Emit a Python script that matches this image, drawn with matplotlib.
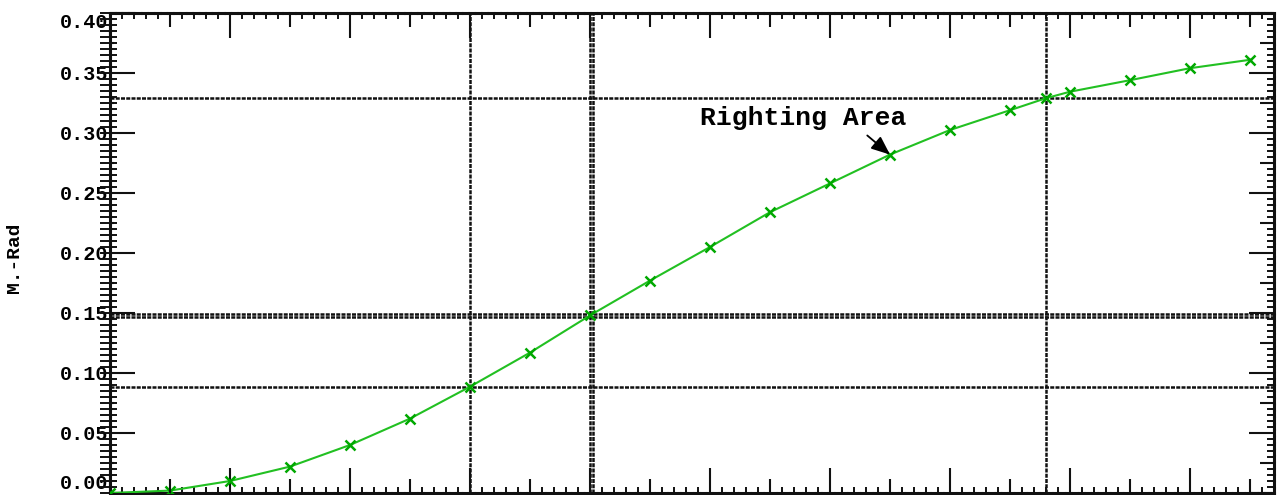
import numpy as np
import matplotlib
matplotlib.use("Agg")
import matplotlib.pyplot as plt
from matplotlib.ticker import MultipleLocator, FixedLocator

# ---- data ----
heel = [0, 5, 10, 15, 20, 25, 30, 35, 40, 45, 50, 55, 60, 65, 70, 75, 78, 80, 85, 90, 95]
area = [0.000, 0.002, 0.010, 0.022, 0.040, 0.062, 0.0886, 0.117, 0.148, 0.177, 0.205,
        0.234, 0.258, 0.282, 0.3025, 0.319, 0.329, 0.3344, 0.344, 0.354, 0.361]
vlines_x = [30, 40, 40.25, 78]
hlines_y = [0.0886, 0.147, 0.149, 0.329]
ytick_vals = [0.00, 0.05, 0.10, 0.15, 0.20, 0.25, 0.30, 0.35, 0.40]
ytick_labels = ["0.00", "0.05", "0.10", "0.15", "0.20", "0.25", "0.30", "0.35", "0.40"]
annot_text = "Righting Area"
annot_xy = (65, 0.282)
annot_text_xy = (57.75, 0.3125)
ylabel = "M.-Rad"

W, H = 1277, 495
fig = plt.figure(figsize=(W / 100, H / 100), dpi=100)
ax = fig.add_axes([110 / W, 2 / H, (1274 - 110) / W, (493 - 13) / H])

font = ['Liberation Mono', 'DejaVu Sans Mono']
dash = (0, (1.6, 0.5))
lc = '#111111'

ax.set_xlim(0, 97)
ax.set_ylim(0, 0.40)

for s in ax.spines.values():
    s.set_color(lc)
    s.set_linewidth(2.2)
    s.set_linestyle(dash)

# reference lines
for xv in vlines_x:
    ax.axvline(xv, color=lc, lw=1.8, ls=dash, zorder=1)
for yv in hlines_y:
    ax.axhline(yv, color=lc, lw=1.8, ls=dash, zorder=1)

# curve
ax.plot(heel, area, color='#22c022', lw=1.5, zorder=3)
ax.plot(heel, area, ls='none', marker='x', ms=7, mew=1.8, color='#00a800', zorder=4)

# ticks
ax.xaxis.set_major_locator(MultipleLocator(10))
ax.xaxis.set_minor_locator(MultipleLocator(1))
ax.tick_params(axis='x', which='both', direction='in', top=True, bottom=True,
               labelbottom=False, labeltop=False, color=lc)
ax.tick_params(axis='x', which='major', length=18, width=1.5)
ax.tick_params(axis='x', which='minor', length=4, width=1.4)

ax.yaxis.set_major_locator(FixedLocator(ytick_vals))
ax.set_yticklabels(ytick_labels, family=font, fontweight='bold', fontsize=14.5)
ax.yaxis.set_minor_locator(MultipleLocator(0.005))
ax.tick_params(axis='y', which='both', direction='in', left=True, right=True, color=lc)
ax.tick_params(axis='y', which='major', length=18, width=1.5, pad=1)
ax.tick_params(axis='y', which='minor', length=5, width=1.4)
lbls = ax.get_yticklabels()
lbls[0].set_va('bottom')
lbls[-1].set_va('top')

xt = ax.get_xaxis_transform()
yt = ax.get_yaxis_transform()
mid_x = np.arange(5, 97, 10)
mid_y = np.arange(0.025, 0.40, 0.05)
minor_y = np.arange(0.0, 0.4001, 0.005)
kw = dict(ls='none', color=lc, mew=1.5, clip_on=False, zorder=5)
ax.plot(mid_x, np.zeros_like(mid_x), marker=2, ms=10, transform=xt, **kw)
ax.plot(mid_x, np.ones_like(mid_x), marker=3, ms=10, transform=xt, **kw)
ax.plot(np.ones_like(mid_y), mid_y, marker=0, ms=10, transform=yt, **kw)
ax.plot(np.zeros_like(mid_y), mid_y, marker=1, ms=3, transform=yt, **kw)
ax.plot(np.zeros_like(minor_y), minor_y, marker=0, ms=7, transform=yt,
        ls='none', color=lc, mew=1.4, clip_on=False, zorder=5)

ax.set_ylabel(ylabel, family=font, fontweight='bold', fontsize=14)
ax.yaxis.set_label_coords(-(110 - 23) / 1164, (493 - 258) / 480)

ax.annotate(annot_text, xy=annot_xy, xytext=annot_text_xy, ha='center', va='center',
            family=font, fontweight='bold', fontsize=19, zorder=6,
            arrowprops=dict(arrowstyle='-|>,head_length=0.6,head_width=0.25',
                            color='black', lw=1.3, relpos=(0.78, 0.0),
                            shrinkA=3, shrinkB=0))

fig.savefig('out.png', dpi=100)
